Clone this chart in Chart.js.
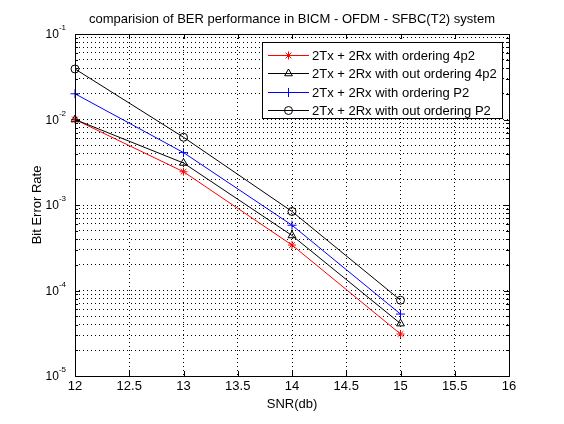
<!DOCTYPE html>
<html>
<head>
<meta charset="utf-8">
<script src="https://cdn.jsdelivr.net/npm/chart.js@4.4.0/dist/chart.umd.min.js"></script>
<style>
  html, body { margin: 0; padding: 0; background: #fff; }
  #chart { display: block; }
</style>
</head>
<body>
<canvas id="chart" width="564" height="424"></canvas>
<script>
// values
var snr = [12, 13, 14, 15];
var berOrd4p2 = [1.0e-2, 2.45e-3, 3.4e-4, 3.1e-5];
var berNoOrd4p2 = [1.0e-2, 3.1e-3, 4.4e-4, 4.1e-5];
var berOrdP2 = [2.0e-2, 4.1e-3, 5.8e-4, 5.3e-5];
var berNoOrdP2 = [3.9e-2, 6.2e-3, 8.4e-4, 7.7e-5];
var seriesNames = [
    '2Tx + 2Rx with ordering 4p2',
    '2Tx + 2Rx with out ordering 4p2',
    '2Tx + 2Rx with ordering P2',
    '2Tx + 2Rx with out ordering P2'
];
var xTicks = [12, 12.5, 13, 13.5, 14, 14.5, 15, 15.5, 16];
var yDecades = [-5, -4, -3, -2, -1];

var titleText = 'comparision of BER performance in BICM - OFDM - SFBC(T2) system';
var xLabel = 'SNR(db)';
var yLabel = 'Bit Error Rate';
var font = '"Liberation Sans", Arial, sans-serif';

function toPoints(ys) {
    return snr.map(function(x, i) { return { x: x, y: ys[i] }; });
}

function makeSet(name, ys, color, style, radius) {
    return {
        label: name,
        data: toPoints(ys),
        borderColor: color,
        backgroundColor: 'rgba(0,0,0,0)',
        borderWidth: 1,
        pointStyle: style,
        pointRadius: radius,
        pointBorderColor: color,
        pointBackgroundColor: 'rgba(0,0,0,0)',
        pointBorderWidth: 1,
        tension: 0,
        clip: false
    };
}

var datasets = [
    makeSet(seriesNames[3], berNoOrdP2, '#000000', 'circle', 4),
    makeSet(seriesNames[2], berOrdP2, '#0000ff', 'cross', 4.5),
    makeSet(seriesNames[1], berNoOrd4p2, '#000000', 'triangle', 4.5),
    makeSet(seriesNames[0], berOrd4p2, '#ff0000', 'star', 4)
];

// frame, inward ticks, y labels with exponents, titles and the boxed legend
var matlabLook = {
    id: 'matlabLook',
    afterDraw: function(chart) {
        var ctx = chart.ctx;
        var a = chart.chartArea;
        var xs = chart.scales.x;
        var ys = chart.scales.y;
        ctx.save();
        ctx.strokeStyle = '#000';
        ctx.lineWidth = 1;
        ctx.setLineDash([]);
        ctx.strokeRect(Math.round(a.left) + 0.5, Math.round(a.top) + 0.5,
            Math.round(a.right - a.left), Math.round(a.bottom - a.top));

        ctx.beginPath();
        xTicks.forEach(function(v) {
            var px = Math.round(xs.getPixelForValue(v)) + 0.5;
            ctx.moveTo(px, a.bottom); ctx.lineTo(px, a.bottom - 5);
            ctx.moveTo(px, a.top); ctx.lineTo(px, a.top + 5);
        });
        ys.ticks.forEach(function(t) {
            var py = Math.round(ys.getPixelForValue(t.value)) + 0.5;
            var len = t.major ? 5 : 3;
            ctx.moveTo(a.left, py); ctx.lineTo(a.left + len, py);
            ctx.moveTo(a.right, py); ctx.lineTo(a.right - len, py);
        });
        ctx.stroke();

        ctx.fillStyle = '#000';
        ctx.textBaseline = 'middle';
        ctx.textAlign = 'left';
        yDecades.forEach(function(e) {
            var py = ys.getPixelForValue(Math.pow(10, e));
            var sup = String(e);
            ctx.font = '12px ' + font;
            var w10 = ctx.measureText('10').width;
            ctx.font = '8px ' + font;
            var wSup = ctx.measureText(sup).width;
            var x0 = a.left - 9 - w10 - wSup;
            ctx.font = '12px ' + font;
            ctx.fillText('10', x0, py + 1);
            ctx.font = '8px ' + font;
            ctx.fillText(sup, x0 + w10, py - 6);
        });

        ctx.font = '13px ' + font;
        ctx.textAlign = 'center';
        ctx.textBaseline = 'alphabetic';
        var cx = (a.left + a.right) / 2;
        ctx.fillText(titleText, cx, 23);
        ctx.fillText(xLabel, cx, 408);
        ctx.save();
        ctx.translate(40.5, (a.top + a.bottom) / 2);
        ctx.rotate(-Math.PI / 2);
        ctx.fillText(yLabel, 0, 0);
        ctx.restore();

        // legend box
        var lx = 262, ly = 42, lw = 240, lh = 76;
        ctx.fillStyle = '#fff';
        ctx.fillRect(lx, ly, lw, lh);
        ctx.strokeStyle = '#000';
        ctx.strokeRect(lx + 0.5, ly + 0.5, lw, lh);
        var order = [3, 2, 1, 0];
        order.forEach(function(di, row) {
            var ds = chart.data.datasets[di];
            var ry = Math.round(ly + 12.5 + row * 18.6) + 0.5;
            ctx.strokeStyle = ds.borderColor;
            ctx.lineWidth = 1;
            ctx.beginPath();
            ctx.moveTo(268, ry);
            ctx.lineTo(309, ry);
            ctx.stroke();
            ctx.fillStyle = 'rgba(0,0,0,0)';
            Chart.helpers.drawPoint(ctx, {
                pointStyle: ds.pointStyle,
                radius: ds.pointRadius,
                rotation: 0,
                borderWidth: 1
            }, 288.5, ry);
            ctx.fillStyle = '#000';
            ctx.textAlign = 'left';
            ctx.textBaseline = 'middle';
            ctx.font = '13px ' + font;
            ctx.fillText(ds.label, 312, ry + 1);
        });
        ctx.restore();
    }
};

new Chart(document.getElementById('chart'), {
    type: 'line',
    data: { datasets: datasets },
    options: {
        responsive: false,
        devicePixelRatio: 1,
        animation: false,
        layout: { padding: { left: 0, right: 55, top: 34, bottom: 0 } },
        plugins: {
            legend: { display: false },
            title: { display: false },
            tooltip: { enabled: false }
        },
        scales: {
            x: {
                type: 'linear',
                min: 12,
                max: 16,
                afterBuildTicks: function(scale) {
                    scale.ticks = xTicks.map(function(v) { return { value: v }; });
                },
                afterFit: function(scale) { scale.height = 48; },
                ticks: {
                    autoSkip: false,
                    maxRotation: 0,
                    padding: 3,
                    color: '#000',
                    font: { family: font, size: 13 },
                    callback: function(value) { return String(value); }
                },
                grid: { color: '#000', lineWidth: 1, drawTicks: false },
                border: { display: false, dash: [1, 3] }
            },
            y: {
                type: 'logarithmic',
                min: 1e-5,
                max: 1e-1,
                afterBuildTicks: function(scale) {
                    var t = [];
                    yDecades.forEach(function(e) {
                        for (var m = 1; m <= 9; m++) {
                            if (e === -1 && m > 1) break;
                            t.push({ value: m * Math.pow(10, e), major: m === 1 });
                        }
                    });
                    scale.ticks = t;
                },
                afterFit: function(scale) { scale.width = 75; },
                ticks: { display: false, autoSkip: false },
                grid: { color: '#000', lineWidth: 1, drawTicks: false },
                border: { display: false, dash: [1, 3] }
            }
        }
    },
    plugins: [matlabLook]
});
</script>
</body>
</html>
